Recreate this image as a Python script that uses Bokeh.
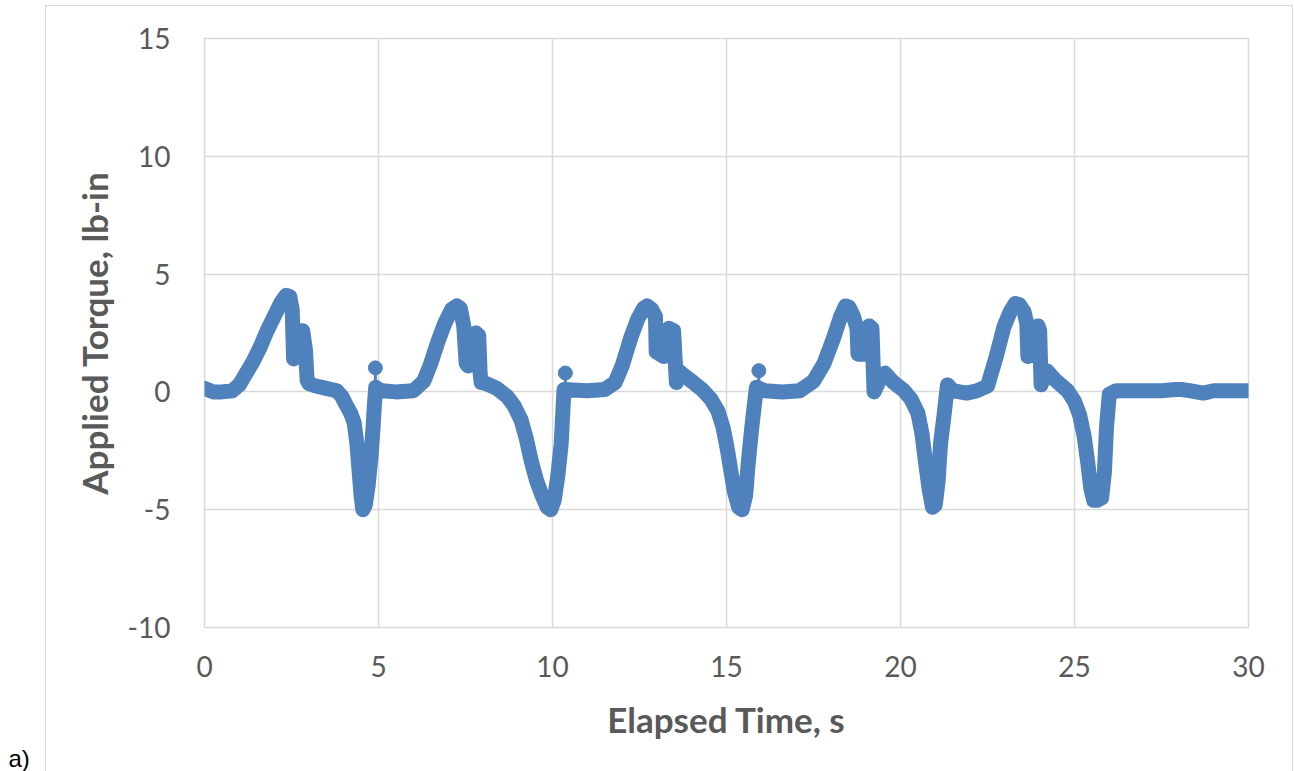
from bokeh.plotting import figure
from bokeh.models import Range1d, FixedTicker, Title, CustomJSTickFormatter, InlineStyleSheet
from bokeh.embed import file_html
from bokeh.resources import INLINE

# ---- data ----
time_s = [
    0.0, 0.25, 0.5, 0.8, 1.0, 1.2, 1.4, 1.6, 1.8, 2.0, 2.2, 2.35, 2.45, 2.52, 2.56, 2.62, 2.72, 2.82, 2.9, 2.95,
    3.0, 3.2, 3.5, 3.8, 3.95, 4.05, 4.2, 4.3, 4.38, 4.45, 4.5, 4.55, 4.62, 4.7, 4.78, 4.84, 4.88, 4.92, 5.0,
    5.1, 5.5, 6.0, 6.3, 6.5, 6.7, 6.9, 7.1, 7.25, 7.35, 7.45, 7.52, 7.58, 7.68, 7.8, 7.88, 7.92, 7.95, 8.1,
    8.4, 8.7, 8.9, 9.1, 9.25, 9.4, 9.55, 9.7, 9.85, 9.95, 10.05, 10.15, 10.25, 10.33,
    11.0, 11.5, 11.8, 12.0, 12.25, 12.45, 12.62, 12.72, 12.85, 12.96, 12.98, 13.2, 13.35, 13.48, 13.56, 13.62,
    13.78, 14.0, 14.3, 14.55, 14.75, 14.9, 15.02, 15.12, 15.22, 15.35, 15.45, 15.55, 15.62, 15.72, 15.86,
    16.1, 16.6, 17.1, 17.5, 17.8, 18.08, 18.28, 18.42, 18.52, 18.65, 18.75, 18.78, 18.95, 19.1, 19.18, 19.24,
    19.4, 19.55, 19.8, 20.1, 20.3, 20.5, 20.62, 20.72, 20.82, 20.92, 21.0, 21.08, 21.15, 21.25, 21.35,
    21.5, 21.9, 22.2, 22.5, 22.75, 22.97, 23.15, 23.3, 23.42, 23.55, 23.63, 23.66, 23.8, 23.95, 24.0, 24.04,
    24.2, 24.45, 24.8, 25.0, 25.15, 25.28, 25.38, 25.47, 25.55, 25.65, 25.78, 25.86, 25.92, 26.0,
    26.2, 26.6, 27.0, 27.5, 27.9, 28.1, 28.3, 28.5, 28.7, 29.0, 29.5, 30.0,
]
torque = [
    0.15, 0.0, 0.0, 0.05, 0.3, 0.8, 1.3, 1.9, 2.6, 3.2, 3.8, 4.1, 4.05, 3.5, 1.4, 1.5, 2.6, 2.6, 1.8, 0.5,
    0.35, 0.25, 0.15, 0.05, -0.2, -0.5, -0.9, -1.3, -2.2, -3.5, -4.4, -5.0, -4.8, -4.0, -2.8, -1.6, -0.6, 0.2, 0.1,
    0.05, 0.0, 0.05, 0.45, 1.2, 2.1, 2.9, 3.5, 3.65, 3.55, 2.8, 1.2, 1.1, 1.5, 2.5, 2.4, 0.8, 0.4, 0.35,
    0.15, -0.2, -0.6, -1.2, -2.0, -3.0, -3.8, -4.4, -4.9, -5.0, -4.6, -3.6, -2.2, 0.1,
    0.05, 0.1, 0.4, 1.1, 2.3, 3.1, 3.55, 3.65, 3.5, 3.2, 1.7, 1.5, 2.7, 2.6, 0.4, 0.9,
    0.7, 0.45, 0.1, -0.3, -0.8, -1.5, -2.4, -3.3, -4.2, -4.9, -5.0, -4.4, -3.1, -1.6, 0.2,
    0.05, 0.0, 0.05, 0.45, 1.2, 2.3, 3.2, 3.65, 3.6, 3.2, 2.7, 1.6, 1.6, 2.8, 2.7, 0.0,
    0.5, 0.8, 0.4, 0.05, -0.3, -0.9, -1.8, -3.0, -4.1, -4.9, -4.8, -3.8, -2.2, -1.0, 0.3,
    0.05, -0.05, 0.05, 0.25, 1.5, 2.75, 3.4, 3.75, 3.7, 3.4, 2.9, 1.5, 1.6, 2.8, 2.6, 0.3,
    0.9, 0.5, 0.05, -0.4, -1.0, -1.9, -3.0, -4.1, -4.6, -4.6, -4.5, -3.4, -1.5, -0.1,
    0.05, 0.05, 0.05, 0.05, 0.1, 0.1, 0.05, 0.0, -0.05, 0.05, 0.05, 0.05,
]
# isolated readings that stand off the band
spike_time = [4.91, 10.37, 15.93]
spike_torque = [1.02, 0.8, 0.9]
spike_base = [0.2, 0.2, 0.2]

x_ticks = [0, 5, 10, 15, 20, 25, 30]
y_ticks = [-10, -5, 0, 5, 10, 15]

BLUE = "#4F81BD"
GRID = "#D9D9D9"
TXT = "#595959"

border_css = InlineStyleSheet(css="""
:host { position: relative; }
:host::after {
  content: ''; position: absolute; left: 45px; top: 5px; width: 1248px; height: 766px;
  border-left: 1.5px solid #D9D9D9; border-top: 1.5px solid #D9D9D9; border-right: 1.5px solid #D9D9D9;
  box-sizing: border-box; pointer-events: none;
}
""")

p = figure(width=1294, height=771, output_backend="svg", toolbar_location=None,
           x_range=Range1d(0, 30), y_range=Range1d(-10, 15),
           min_border_left=204, min_border_right=46, min_border_top=38, min_border_bottom=144,
           stylesheets=[border_css])

p.line(time_s, torque, line_color=BLUE, line_width=15, line_join="round", line_cap="round")
p.segment(x0=spike_time, y0=spike_base, x1=spike_time, y1=spike_torque, line_color=BLUE, line_width=3)
p.scatter(spike_time, spike_torque, size=14, fill_color=BLUE, line_color=BLUE)

p.outline_line_color = GRID
p.outline_line_width = 1.5
tick_fmt = CustomJSTickFormatter(code="return tick.toString();")
for ax in (p.xaxis[0], p.yaxis[0]):
    ax.axis_line_color = None
    ax.major_tick_line_color = None
    ax.minor_tick_line_color = None
    ax.formatter = tick_fmt
    ax.major_label_text_font = "Lato"
    ax.major_label_text_font_size = "28px"
    ax.major_label_text_color = TXT
    ax.axis_label_text_font = "Lato"
    ax.axis_label_text_font_style = "bold"
    ax.axis_label_text_font_size = "35px"
    ax.axis_label_text_color = TXT

p.xaxis.ticker = FixedTicker(ticks=x_ticks)
p.yaxis.ticker = FixedTicker(ticks=y_ticks)
p.xaxis.axis_label = "Elapsed Time, s"
p.yaxis.axis_label = "Applied Torque, lb-in"
p.xaxis.major_label_standoff = 22
p.yaxis.major_label_standoff = 28
p.xaxis.axis_label_standoff = 18
p.yaxis.axis_label_standoff = 10

p.xgrid.ticker = FixedTicker(ticks=x_ticks)
p.ygrid.ticker = FixedTicker(ticks=y_ticks)
p.xgrid.grid_line_color = GRID
p.ygrid.grid_line_color = GRID
p.xgrid.grid_line_width = 1.5
p.ygrid.grid_line_width = 1.5

p.add_layout(Title(text="a)", align="left", offset=-196, standoff=0,
                   text_font="Liberation Sans", text_font_size="24px",
                   text_font_style="normal", text_color="black"), "below")

open("out.html", "w").write(file_html(p, INLINE))
